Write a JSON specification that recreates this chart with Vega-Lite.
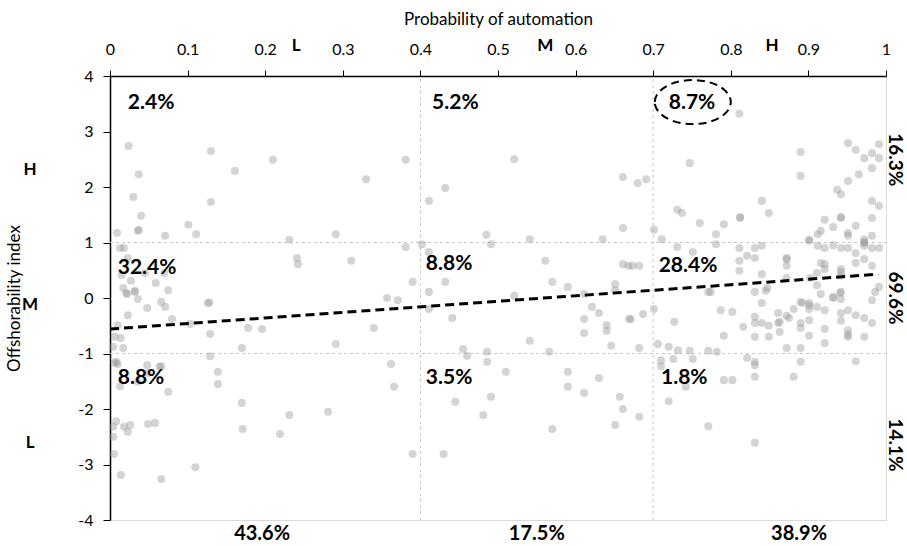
{
  "$schema": "https://vega.github.io/schema/vega-lite/v6.json",
  "width": 776,
  "height": 444,
  "autosize": {"type": "none"},
  "padding": {"left": 110, "top": 76, "right": 21, "bottom": 26},
  "config": {"view": {"stroke": "#d9d9d9", "strokeWidth": 1}, "font": "Lato", "background": "white"},
  "datasets": {
    "pts": [
      {"x":0.024,"y":2.74},{"x":0.130,"y":2.65},{"x":0.037,"y":2.23},{"x":0.161,"y":2.29},{"x":0.210,"y":2.49},{"x":0.330,"y":2.14},{"x":0.030,"y":1.82},{"x":0.130,"y":1.73},{"x":0.040,"y":1.48},{"x":0.037,"y":1.23},
      {"x":0.101,"y":1.32},{"x":0.111,"y":1.15},{"x":0.071,"y":1.12},{"x":0.009,"y":1.17},{"x":0.036,"y":1.21},{"x":0.231,"y":1.05},{"x":0.291,"y":1.15},{"x":0.241,"y":0.72},{"x":0.242,"y":0.61},{"x":0.311,"y":0.67},
      {"x":0.013,"y":0.90},{"x":0.018,"y":0.90},{"x":0.023,"y":0.72},{"x":0.015,"y":0.41},{"x":0.027,"y":0.31},{"x":0.045,"y":0.45},{"x":0.059,"y":0.27},{"x":0.070,"y":0.45},{"x":0.017,"y":0.18},{"x":0.021,"y":0.09},
      {"x":0.032,"y":0.13},{"x":0.036,"y":-0.02},{"x":0.075,"y":0.14},{"x":0.066,"y":-0.07},{"x":0.071,"y":-0.16},{"x":0.048,"y":-0.18},{"x":0.023,"y":-0.31},{"x":0.080,"y":-0.38},{"x":0.126,"y":-0.09},{"x":0.128,"y":-0.08},
      {"x":0.103,"y":-0.47},{"x":0.010,"y":-0.49},{"x":0.006,"y":-0.70},{"x":0.014,"y":-0.72},{"x":0.004,"y":-0.88},{"x":0.017,"y":-0.90},{"x":0.129,"y":-0.65},{"x":0.178,"y":-0.54},{"x":0.196,"y":-0.56},{"x":0.170,"y":-0.90},
      {"x":0.129,"y":-1.05},{"x":0.006,"y":-1.17},{"x":0.010,"y":-1.19},{"x":0.008,"y":-1.15},{"x":0.139,"y":-1.33},{"x":0.139,"y":-1.55},{"x":0.013,"y":-1.59},{"x":0.036,"y":-1.51},{"x":0.049,"y":-1.35},{"x":0.064,"y":-1.24},
      {"x":0.075,"y":-1.69},{"x":0.291,"y":-0.83},{"x":0.048,"y":-1.21},{"x":0.066,"y":-1.23},{"x":0.170,"y":-1.89},{"x":0.231,"y":-2.11},{"x":0.281,"y":-2.05},{"x":0.008,"y":-2.22},{"x":0.004,"y":-2.32},{"x":0.018,"y":-2.32},
      {"x":0.026,"y":-2.29},{"x":0.023,"y":-2.41},{"x":0.049,"y":-2.27},{"x":0.058,"y":-2.25},{"x":0.171,"y":-2.36},{"x":0.219,"y":-2.45},{"x":0.004,"y":-2.50},{"x":0.005,"y":-2.81},{"x":0.110,"y":-3.05},{"x":0.014,"y":-3.19},
      {"x":0.066,"y":-3.26},{"x":0.022,"y":0.07},{"x":0.032,"y":0.11},
      {"x":0.381,"y":2.49},{"x":0.521,"y":2.50},{"x":0.411,"y":1.75},{"x":0.432,"y":1.98},{"x":0.661,"y":2.18},{"x":0.661,"y":1.26},{"x":0.485,"y":1.14},{"x":0.491,"y":0.97},{"x":0.541,"y":1.06},{"x":0.635,"y":1.06},
      {"x":0.381,"y":0.92},{"x":0.402,"y":0.97},{"x":0.411,"y":0.83},{"x":0.561,"y":0.67},{"x":0.661,"y":0.61},{"x":0.668,"y":0.58},{"x":0.390,"y":0.29},{"x":0.432,"y":0.29},{"x":0.411,"y":0.11},{"x":0.570,"y":0.29},
      {"x":0.590,"y":0.20},{"x":0.651,"y":0.25},{"x":0.651,"y":0.14},{"x":0.357,"y":0.0},{"x":0.371,"y":-0.04},{"x":0.521,"y":0.04},{"x":0.611,"y":0.07},{"x":0.411,"y":-0.20},{"x":0.441,"y":-0.36},{"x":0.340,"y":-0.54},
      {"x":0.611,"y":-0.38},{"x":0.621,"y":-0.16},{"x":0.630,"y":-0.27},{"x":0.640,"y":-0.49},{"x":0.640,"y":-0.59},{"x":0.611,"y":-0.63},{"x":0.646,"y":-0.86},{"x":0.669,"y":-0.38},{"x":0.541,"y":-0.77},{"x":0.455,"y":-0.92},
      {"x":0.460,"y":-1.04},{"x":0.486,"y":-0.97},{"x":0.486,"y":-1.15},{"x":0.566,"y":-0.97},{"x":0.362,"y":-1.19},{"x":0.510,"y":-1.33},{"x":0.590,"y":-1.33},{"x":0.590,"y":-1.60},{"x":0.630,"y":-1.44},{"x":0.366,"y":-1.60},
      {"x":0.445,"y":-1.87},{"x":0.491,"y":-1.78},{"x":0.611,"y":-1.71},{"x":0.481,"y":-2.11},{"x":0.657,"y":-1.78},{"x":0.661,"y":-2.00},{"x":0.651,"y":-2.29},{"x":0.570,"y":-2.36},{"x":0.390,"y":-2.81},{"x":0.430,"y":-2.81},
      {"x":0.680,"y":2.07},{"x":0.691,"y":2.14},{"x":0.747,"y":2.43},{"x":0.811,"y":3.32},{"x":0.701,"y":1.23},
      {"x":0.890,"y":2.63},{"x":0.890,"y":2.20},{"x":0.951,"y":2.79},{"x":0.961,"y":2.67},{"x":0.972,"y":2.52},{"x":0.982,"y":2.61},{"x":0.991,"y":2.77},{"x":0.991,"y":2.52},{"x":0.982,"y":2.34},{"x":0.965,"y":2.23},
      {"x":0.951,"y":2.11},{"x":0.937,"y":1.95},{"x":0.942,"y":1.87},{"x":0.982,"y":1.75},{"x":0.991,"y":1.66},{"x":0.982,"y":1.44},{"x":0.840,"y":1.75},{"x":0.849,"y":1.53},{"x":0.731,"y":1.59},{"x":0.737,"y":1.53},
      {"x":0.760,"y":1.35},{"x":0.791,"y":1.33},{"x":0.812,"y":1.44},{"x":0.812,"y":1.46},{"x":0.711,"y":1.06},{"x":0.781,"y":1.15},{"x":0.731,"y":0.92},{"x":0.751,"y":0.83},{"x":0.781,"y":0.97},{"x":0.811,"y":0.90},
      {"x":0.821,"y":0.76},{"x":0.831,"y":0.90},{"x":0.840,"y":0.94},{"x":0.811,"y":0.67},{"x":0.811,"y":0.49},{"x":0.831,"y":0.72},{"x":0.673,"y":0.58},{"x":0.682,"y":0.58},{"x":0.872,"y":0.70},{"x":0.872,"y":0.72},
      {"x":0.872,"y":0.58},{"x":0.840,"y":0.43},{"x":0.901,"y":1.03},{"x":0.901,"y":1.05},{"x":0.921,"y":1.41},{"x":0.942,"y":1.44},{"x":0.942,"y":1.46},{"x":0.916,"y":1.21},{"x":0.912,"y":1.15},{"x":0.932,"y":1.28},
      {"x":0.961,"y":1.30},{"x":0.951,"y":1.17},{"x":0.951,"y":1.12},{"x":0.972,"y":1.06},{"x":0.972,"y":0.99},{"x":0.982,"y":1.12},{"x":0.912,"y":0.94},{"x":0.921,"y":0.90},{"x":0.932,"y":0.95},{"x":0.942,"y":0.90},
      {"x":0.951,"y":0.90},{"x":0.961,"y":0.81},{"x":0.972,"y":1.01},{"x":0.972,"y":0.94},{"x":0.982,"y":0.90},{"x":0.991,"y":0.90},{"x":0.916,"y":0.63},{"x":0.921,"y":0.61},{"x":0.942,"y":0.52},{"x":0.961,"y":0.63},
      {"x":0.972,"y":0.70},{"x":0.982,"y":0.58},{"x":0.921,"y":0.52},{"x":0.872,"y":0.36},{"x":0.902,"y":0.36},{"x":0.911,"y":0.45},{"x":0.911,"y":0.23},{"x":0.942,"y":0.47},{"x":0.942,"y":0.40},{"x":0.916,"y":0.07},
      {"x":0.932,"y":0.0},{"x":0.942,"y":0.11},{"x":0.942,"y":-0.02},{"x":0.982,"y":-0.04},{"x":0.986,"y":0.11},{"x":0.991,"y":0.20},{"x":0.881,"y":-0.20},{"x":0.890,"y":-0.07},{"x":0.901,"y":-0.09},{"x":0.901,"y":-0.20},
      {"x":0.911,"y":-0.16},{"x":0.921,"y":-0.22},{"x":0.872,"y":-0.32},{"x":0.875,"y":-0.36},{"x":0.863,"y":-0.43},{"x":0.863,"y":-0.61},{"x":0.890,"y":-0.45},{"x":0.890,"y":-0.54},{"x":0.901,"y":-0.40},{"x":0.942,"y":-0.27},
      {"x":0.942,"y":-0.41},{"x":0.951,"y":-0.22},{"x":0.961,"y":-0.31},{"x":0.972,"y":-0.36},{"x":0.982,"y":-0.45},{"x":0.921,"y":-0.56},{"x":0.901,"y":-0.68},{"x":0.951,"y":-0.58},{"x":0.951,"y":-0.70},{"x":0.951,"y":-0.66},
      {"x":0.972,"y":-0.70},{"x":0.921,"y":-0.81},{"x":0.872,"y":-0.90},{"x":0.890,"y":-0.90},{"x":0.890,"y":-1.15},{"x":0.961,"y":-1.14},{"x":0.881,"y":-1.42},{"x":0.771,"y":0.11},{"x":0.774,"y":0.11},{"x":0.831,"y":0.11},
      {"x":0.845,"y":0.13},{"x":0.932,"y":0.02},{"x":0.941,"y":0.09},{"x":0.701,"y":-0.20},{"x":0.671,"y":-0.38},{"x":0.687,"y":-0.29},{"x":0.727,"y":-0.43},{"x":0.787,"y":-0.22},{"x":0.802,"y":-0.25},{"x":0.840,"y":-0.09},
      {"x":0.831,"y":-0.34},{"x":0.831,"y":-0.45},{"x":0.840,"y":-0.45},{"x":0.849,"y":-0.50},{"x":0.861,"y":-0.27},{"x":0.861,"y":-0.45},{"x":0.892,"y":-0.09},{"x":0.901,"y":-0.13},{"x":0.791,"y":-0.68},{"x":0.816,"y":-0.52},
      {"x":0.831,"y":-0.70},{"x":0.849,"y":-0.70},{"x":0.682,"y":-0.90},{"x":0.706,"y":-0.83},{"x":0.720,"y":-0.88},{"x":0.732,"y":-0.94},{"x":0.747,"y":-0.95},{"x":0.771,"y":-0.95},{"x":0.782,"y":-0.97},{"x":0.710,"y":-1.12},
      {"x":0.710,"y":-1.23},{"x":0.726,"y":-1.10},{"x":0.751,"y":-1.10},{"x":0.821,"y":-1.08},{"x":0.831,"y":-1.15},{"x":0.831,"y":-1.21},{"x":0.831,"y":-1.42},{"x":0.791,"y":-1.48},{"x":0.802,"y":-1.48},{"x":0.742,"y":-1.60},
      {"x":0.720,"y":-1.86},{"x":0.682,"y":-2.14},{"x":0.771,"y":-2.31},{"x":0.831,"y":-2.61},{"x":0.847,"y":0.18}
    ],
    "vlines": [{"x": 0.4, "y": -4, "y2": 4}, {"x": 0.7, "y": -4, "y2": 4}],
    "hlines": [{"x": 0, "x2": 1, "y": 1}, {"x": 0, "x2": 1, "y": -1}],
    "trend": [{"x": 0, "y": -0.56}, {"x": 0.99, "y": 0.43}],
    "quad": [
      {"x": 0.023, "y": 3.51, "label": "2.4%"},
      {"x": 0.415, "y": 3.51, "label": "5.2%"},
      {"x": 0.720, "y": 3.51, "label": "8.7%"},
      {"x": 0.010, "y": 0.54, "label": "32.4%"},
      {"x": 0.407, "y": 0.61, "label": "8.8%"},
      {"x": 0.707, "y": 0.58, "label": "28.4%"},
      {"x": 0.010, "y": -1.44, "label": "8.8%"},
      {"x": 0.407, "y": -1.44, "label": "3.5%"},
      {"x": 0.710, "y": -1.44, "label": "1.8%"}
    ],
    "cols": [
      {"x": 0.196, "y": -4.25, "label": "43.6%"},
      {"x": 0.550, "y": -4.25, "label": "17.5%"},
      {"x": 0.888, "y": -4.25, "label": "38.9%"}
    ],
    "rows": [
      {"x": 1.011, "y": 2.49, "label": "16.3%"},
      {"x": 1.011, "y": 0.0, "label": "69.6%"},
      {"x": 1.011, "y": -2.65, "label": "14.1%"}
    ],
    "levels": [
      {"x": 0.240, "y": 4.54, "label": "L"},
      {"x": 0.561, "y": 4.54, "label": "M"},
      {"x": 0.853, "y": 4.54, "label": "H"},
      {"x": -0.103, "y": 2.31, "label": "H"},
      {"x": -0.103, "y": -0.13, "label": "M"},
      {"x": -0.103, "y": -2.61, "label": "L"}
    ],
    "ellipse": [{"x": 0.751, "y": 3.53}]
  },
  "encoding": {
    "x": {
      "field": "x", "type": "quantitative",
      "scale": {"domain": [0, 1], "nice": false, "zero": false},
      "axis": {
        "orient": "top", "title": "Probability of automation",
        "values": [0, 0.1, 0.2, 0.3, 0.4, 0.5, 0.6, 0.7, 0.8, 0.9, 1],
        "labelExpr": "'' + datum.value",
        "grid": false, "domainColor": "#000000", "domainWidth": 1.5,
        "tickColor": "#000000", "tickSize": 6, "tickWidth": 1,
        "labelFont": "Lato", "labelFontSize": 16, "labelColor": "#000000", "labelPadding": 13,
        "labelFlush": false, "labelOverlap": false,
        "titleFont": "Lato", "titleFontSize": 17, "titleFontWeight": "normal", "titleColor": "#000000", "titlePadding": 13
      }
    },
    "y": {
      "field": "y", "type": "quantitative",
      "scale": {"domain": [-4, 4], "nice": false, "zero": false},
      "axis": {
        "title": "Offshorability index",
        "values": [-4, -3, -2, -1, 0, 1, 2, 3, 4],
        "labelExpr": "'' + datum.value",
        "grid": false, "domainColor": "#000000", "domainWidth": 1.5,
        "tickColor": "#000000", "tickSize": 7, "tickWidth": 1,
        "labelFont": "Lato", "labelFontSize": 16, "labelColor": "#000000", "labelPadding": 10,
        "labelFlush": false, "labelOverlap": false,
        "titleFont": "Lato", "titleFontSize": 17, "titleFontWeight": "normal", "titleColor": "#000000", "titlePadding": 54
      }
    }
  },
  "layer": [
    {
      "data": {"name": "vlines"},
      "mark": {"type": "rule", "color": "#c8c8c8", "strokeDash": [3, 3], "strokeWidth": 1},
      "encoding": {"y2": {"field": "y2"}}
    },
    {
      "data": {"name": "hlines"},
      "mark": {"type": "rule", "color": "#c8c8c8", "strokeDash": [3, 3], "strokeWidth": 1},
      "encoding": {"x2": {"field": "x2"}}
    },
    {
      "data": {"name": "pts"},
      "mark": {"type": "circle", "size": 65, "color": "#999999", "opacity": 0.42}
    },
    {
      "data": {"name": "trend"},
      "mark": {"type": "line", "color": "#000000", "strokeWidth": 3, "strokeDash": [9, 5]}
    },
    {
      "data": {"name": "quad"},
      "mark": {"type": "text", "align": "left", "baseline": "middle", "fontSize": 21, "fontWeight": "bold", "font": "Lato", "color": "#000000"},
      "encoding": {"text": {"field": "label"}}
    },
    {
      "data": {"name": "cols"},
      "mark": {"type": "text", "align": "center", "baseline": "middle", "fontSize": 20, "fontWeight": "bold", "font": "Lato", "color": "#000000"},
      "encoding": {"text": {"field": "label"}}
    },
    {
      "data": {"name": "rows"},
      "mark": {"type": "text", "align": "center", "baseline": "middle", "angle": 90, "fontSize": 19, "fontWeight": "bold", "font": "Lato", "color": "#000000"},
      "encoding": {"text": {"field": "label"}}
    },
    {
      "data": {"name": "levels"},
      "mark": {"type": "text", "align": "center", "baseline": "middle", "fontSize": 17, "fontWeight": "bold", "font": "Lato", "color": "#000000"},
      "encoding": {"text": {"field": "label"}}
    },
    {
      "data": {"name": "ellipse"},
      "mark": {"type": "point", "shape": "M -1 0 A 1 0.58 0 1 1 1 0 A 1 0.58 0 1 1 -1 0 Z", "size": 5776, "filled": false, "stroke": "#000000", "strokeWidth": 2, "strokeDash": [8, 5], "opacity": 1}
    }
  ]
}
